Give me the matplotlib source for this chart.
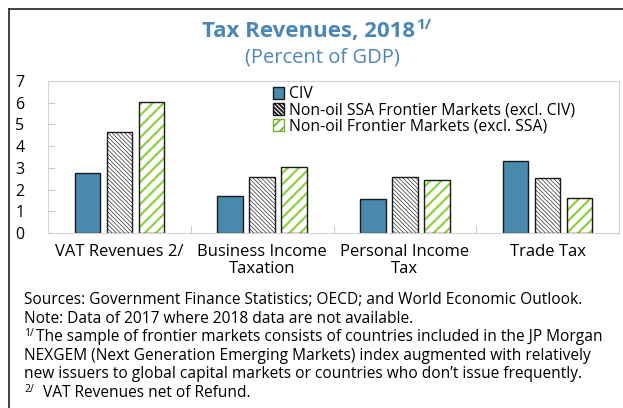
import matplotlib
matplotlib.use("Agg")
import matplotlib.pyplot as plt
import numpy as np
from matplotlib.lines import Line2D
from matplotlib.patches import Patch

plt.rcParams["font.family"] = ["Open Sans", "DejaVu Sans"]

categories = ["VAT Revenues 2/", "Business Income\nTaxation", "Personal Income\nTax", "Trade Tax"]
series_names = ["CIV", "Non-oil SSA Frontier Markets (excl. CIV)", "Non-oil Frontier Markets (excl. SSA)"]
civ = [2.75, 1.69, 1.55, 3.31]
ssa = [4.63, 2.60, 2.56, 2.53]
frontier = [6.04, 3.03, 2.44, 1.59]

blue_bar = "#4A89AE"
green = "#8DD13F"
title_blue = "#4A86B8"
W, H = 623, 408
ssa_hatch = "\\" * 8

fig = plt.figure(figsize=(6.23, 4.08), dpi=100)
ax = fig.add_axes([48 / W, 1 - 233 / H, (619 - 48) / W, (233 - 81) / H])

x = np.arange(len(categories))
w = 0.18
step = 0.224

ax.bar(x - step, civ, w, color=blue_bar, edgecolor="#1a1a1a", linewidth=1.0)
plt.rcParams["hatch.linewidth"] = 0.45
ax.bar(x, ssa, w, color="white", edgecolor="#1a1a1a", hatch=ssa_hatch, linewidth=1.0)
plt.rcParams["hatch.linewidth"] = 1.6
ax.bar(x + step, frontier, w, color="white", edgecolor=green, hatch="///", linewidth=0)
ax.bar(x + step, frontier, w, color="none", edgecolor="#1a1a1a", linewidth=1.0)

ax.set_xlim(-0.5, len(categories) - 0.5)
ax.set_ylim(0, 7)
ax.set_yticks(range(8))
ax.tick_params(axis="y", direction="in", length=5, color="#cccccc", labelsize=11.5, pad=17)
ax.set_xticks(x)
ax.set_xticklabels(categories, fontsize=12, linespacing=1.05)
ax.tick_params(axis="x", length=0, pad=8)
for xs in [0.5, 1.5, 2.5]:
    ax.plot([xs, xs], [0, 0.3], color="#cccccc", lw=0.8, clip_on=False)
for s in ax.spines.values():
    s.set_color("#d4d4d4")
    s.set_linewidth(0.8)

plt.rcParams["hatch.linewidth"] = 0.45
h_ssa = Patch(facecolor="white", edgecolor="#1a1a1a", hatch=ssa_hatch)
plt.rcParams["hatch.linewidth"] = 1.3
h_fr = Patch(facecolor="white", edgecolor="#6FB52F", hatch="///")
handles = [Patch(facecolor=blue_bar, edgecolor="#1a1a1a"), h_ssa, h_fr]
ax.legend(handles, series_names, loc="upper left", bbox_to_anchor=((274 - 48) / 571 - 0.012, 1.0),
          frameon=False, fontsize=11.3, handlelength=0.75, handleheight=0.75, handletextpad=0.3,
          labelspacing=0.0, borderaxespad=0.15, borderpad=0.2)

# title with superscript placed after the measured bold text
renderer = fig.canvas.get_renderer()
t = fig.text(202 / W, 1 - 32 / H, "Tax Revenues, 2018", ha="left", va="center",
             fontsize=16, fontweight="bold", color=title_blue)
bb = t.get_window_extent(renderer)
fig.text(bb.x1 / W + 1 / W, 1 - 25 / H, "1/", ha="left", va="center",
         fontsize=11, fontweight="bold", color=title_blue)
fig.text(322 / W, 1 - 57 / H, "(Percent of GDP)", ha="center", va="center",
         fontsize=14.5, color=title_blue)

notes = [
    ("", "Sources: Government Finance Statistics; OECD; and World Economic Outlook."),
    ("", "Note: Data of 2017 where 2018 data are not available."),
    ("1/", "The sample of frontier markets consists of countries included in the JP Morgan"),
    ("", "NEXGEM (Next Generation Emerging Markets) index augmented with relatively"),
    ("", "new issuers to global capital markets or countries who don\u2019t issue frequently."),
    ("2/", "VAT Revenues net of Refund."),
]
note_x = {"": 24, "1/": 36, "2/": 43}
for i, (sup, line) in enumerate(notes):
    yc = 300 + i * 18.6
    if sup:
        fig.text(24 / W, 1 - (yc - 4) / H, sup, ha="left", va="center", fontsize=7.5)
    fig.text(note_x[sup] / W, 1 - yc / H, line, ha="left", va="center", fontsize=11.2)

fig.add_artist(Line2D([9 / W, 9 / W], [0, 1 - 9 / H], color="#333333", lw=1.3))
fig.add_artist(Line2D([9 / W, 1], [1 - 9 / H, 1 - 9 / H], color="#333333", lw=1.3))

fig.savefig("out.png", dpi=100)
